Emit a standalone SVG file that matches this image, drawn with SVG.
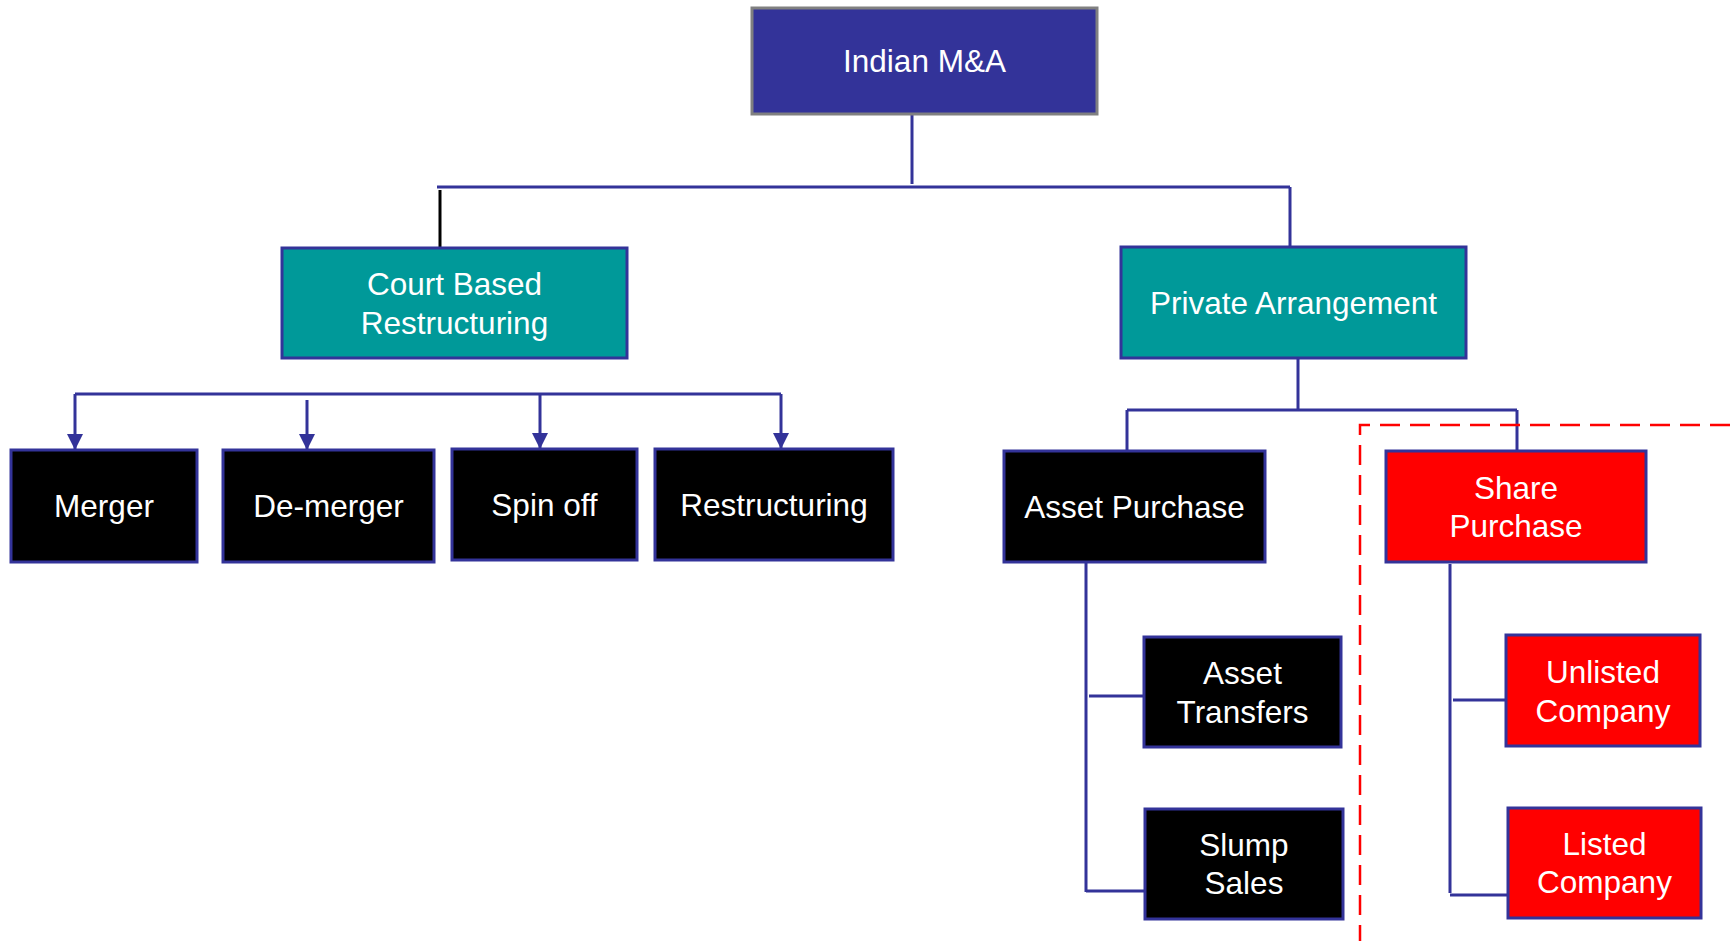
<svg xmlns="http://www.w3.org/2000/svg" width="1730" height="941" viewBox="0 0 1730 941">
<defs>
<style>
.box{stroke:#333399;stroke-width:3}
.blue{fill:#333399;stroke:#808080;stroke-width:3}
.teal{fill:#009999}
.blk{fill:#000000}
.red{fill:#FF0000}
.t{font-family:"Liberation Sans",Arial,sans-serif;font-size:31.5px;fill:#FFFFFF;text-anchor:middle}
.c{stroke:#333399;stroke-width:3;fill:none}
.a{stroke:#333399;stroke-width:3;fill:none;marker-end:url(#arr)}
</style>
<marker id="arr" markerUnits="userSpaceOnUse" markerWidth="16" markerHeight="16" refX="16" refY="8" orient="auto" viewBox="0 0 16 16">
<path d="M0,0 L16,8 L0,16 z" fill="#333399"/>
</marker>
</defs>
<rect width="1730" height="941" fill="#FFFFFF"/>
<g id="connectors">
<path class="c" d="M912,114 V184"/>
<path class="c" d="M437,187 H1290"/>
<path class="c" d="M1290,187 V250"/>
<path d="M440,190 V253" stroke="#000000" stroke-width="3" fill="none"/>
<path class="c" d="M75,394 H781"/>
<path class="a" d="M75,394 V450"/>
<path class="a" d="M307,400 V450"/>
<path class="a" d="M540,394 V449"/>
<path class="a" d="M781,394 V449"/>
<path class="c" d="M1298,358 V410"/>
<path class="c" d="M1127,410 H1517"/>
<path class="c" d="M1127,410 V453"/>
<path class="c" d="M1517,410 V452"/>
<path class="c" d="M1086,562 V892"/>
<path class="c" d="M1089,696 H1144"/>
<path class="c" d="M1086,891 H1145"/>
<path class="c" d="M1450,564 V893"/>
<path class="c" d="M1453,700 H1506"/>
<path class="c" d="M1450,895 H1508"/>
<path d="M1730,425 H1360 V941" stroke="#FF0000" stroke-width="2.5" fill="none" stroke-dasharray="20,10"/>
</g>
<g id="indian-ma">
<rect class="blue" x="752" y="8" width="345" height="106"/>
<text class="t" x="924.5" y="72">Indian M&amp;A</text>
</g>
<g id="court-based">
<rect class="box teal" x="282" y="248" width="345" height="110"/>
<text class="t" x="454.5" y="294.5">Court Based</text>
<text class="t" x="454.5" y="333.5">Restructuring</text>
</g>
<g id="private-arrangement">
<rect class="box teal" x="1121" y="247" width="345" height="111"/>
<text class="t" x="1293.5" y="313.5">Private Arrangement</text>
</g>
<g id="merger">
<rect class="box blk" x="11" y="450" width="186" height="112"/>
<text class="t" x="104" y="517">Merger</text>
</g>
<g id="de-merger">
<rect class="box blk" x="223" y="450" width="211" height="112"/>
<text class="t" x="328.5" y="517">De-merger</text>
</g>
<g id="spin-off">
<rect class="box blk" x="452" y="449" width="185" height="111"/>
<text class="t" x="544.5" y="516">Spin off</text>
</g>
<g id="restructuring">
<rect class="box blk" x="655" y="449" width="238" height="111"/>
<text class="t" x="774" y="516">Restructuring</text>
</g>
<g id="asset-purchase">
<rect class="box blk" x="1004" y="451" width="261" height="111"/>
<text class="t" x="1134.5" y="517.5">Asset Purchase</text>
</g>
<g id="share-purchase">
<rect class="box red" x="1386" y="451" width="260" height="111"/>
<text class="t" x="1516" y="498.5">Share</text>
<text class="t" x="1516" y="536.5">Purchase</text>
</g>
<g id="asset-transfers">
<rect class="box blk" x="1144" y="637" width="197" height="110"/>
<text class="t" x="1242.5" y="683.5">Asset</text>
<text class="t" x="1242.5" y="722.5">Transfers</text>
</g>
<g id="slump-sales">
<rect class="box blk" x="1145" y="809" width="198" height="110"/>
<text class="t" x="1244" y="856">Slump</text>
<text class="t" x="1244" y="894">Sales</text>
</g>
<g id="unlisted-company">
<rect class="box red" x="1506" y="635" width="194" height="111"/>
<text class="t" x="1603" y="683">Unlisted</text>
<text class="t" x="1603" y="722">Company</text>
</g>
<g id="listed-company">
<rect class="box red" x="1508" y="808" width="193" height="110"/>
<text class="t" x="1604.5" y="855">Listed</text>
<text class="t" x="1604.5" y="893">Company</text>
</g>
</svg>
